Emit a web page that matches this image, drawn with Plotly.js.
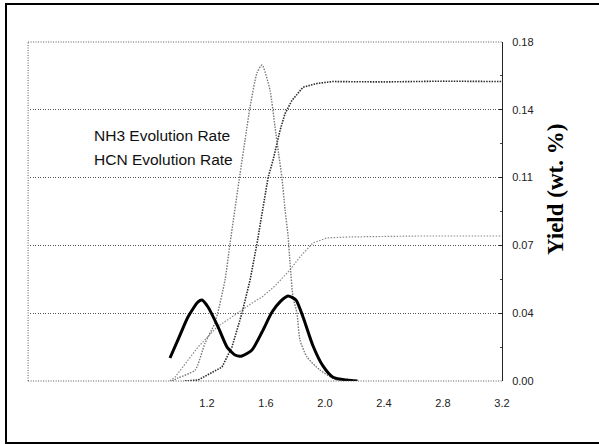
<!DOCTYPE html>
<html>
<head>
<meta charset="utf-8">
<script src="https://cdn.plot.ly/plotly-3.0.1.min.js"></script>
<style>
  html, body { margin: 0; padding: 0; background: #fff; }
  #wrap { position: relative; width: 599px; height: 444px; overflow: hidden; }
  #chart { width: 599px; height: 444px; }
  #frame { position: absolute; left: 5px; top: 3px; width: 620px; height: 437px;
           border: 2px solid #000; pointer-events: none; }
</style>
</head>
<body>
<div id="wrap">
  <div id="chart"></div>
  <div id="frame"></div>
</div>
<script>
// Thick black curve: HCN evolution rate
const hcnRateX = [0.949, 1.003, 1.071, 1.139, 1.166, 1.207, 1.275, 1.336, 1.39, 1.437, 1.505, 1.573, 1.641, 1.695, 1.749, 1.803, 1.851, 1.919, 1.986, 2.054, 2.149, 2.22];
const hcnRateY = [0.0122, 0.0218, 0.034, 0.042, 0.043, 0.0393, 0.0287, 0.018, 0.0138, 0.0133, 0.0165, 0.026, 0.0366, 0.042, 0.0451, 0.043, 0.034, 0.0186, 0.008, 0.002, 0.0005, 0];

// Grey dotted tall peak: NH3 evolution rate
const nh3RateX = [0.963, 1.003, 1.119, 1.186, 1.254, 1.322, 1.356, 1.424, 1.458, 1.492, 1.539, 1.573, 1.627, 1.661, 1.685, 1.708, 1.729, 1.749, 1.763, 1.783, 1.81, 1.83, 1.878, 1.966, 2.08, 2.17];
const nh3RateY = [0, 0.0016, 0.0058, 0.020, 0.031, 0.0536, 0.073, 0.110, 0.128, 0.1455, 0.1636, 0.1678, 0.1545, 0.135, 0.121, 0.108, 0.091, 0.0775, 0.0627, 0.0446, 0.036, 0.0218, 0.0127, 0.0058, 0.0005, 0];

// Dark dotted S-curve: cumulative NH3 yield
const nh3CumX = [1.05, 1.139, 1.302, 1.369, 1.437, 1.492, 1.539, 1.559, 1.614, 1.647, 1.695, 1.729, 1.776, 1.851, 1.946, 2.05, 2.4, 2.8, 3.2];
const nh3CumY = [0, 0.0005, 0.0074, 0.018, 0.036, 0.0536, 0.073, 0.082, 0.108, 0.117, 0.133, 0.142, 0.149, 0.156, 0.158, 0.159, 0.1588, 0.1592, 0.159];

// Light grey dotted S-curve: cumulative HCN yield
const hcnCumX = [0.949, 0.983, 1.139, 1.268, 1.369, 1.505, 1.573, 1.661, 1.763, 1.83, 1.919, 2.014, 2.17, 2.64, 3.2];
const hcnCumY = [0, 0.002, 0.018, 0.0287, 0.034, 0.0414, 0.0446, 0.0505, 0.059, 0.0659, 0.0733, 0.076, 0.0765, 0.077, 0.077];

const xTickVals = [1.2, 1.6, 2.0, 2.4, 2.8, 3.2];
const xTickText = ['1.2', '1.6', '2.0', '2.4', '2.8', '3.2'];
const yTickVals = [0, 0.036, 0.072, 0.108, 0.144, 0.18];

const labelNH3 = 'NH3 Evolution Rate';
const labelHCN = 'HCN Evolution Rate';
const yTitle = 'Yield (wt. %)';

const traces = [
  { x: nh3CumX, y: nh3CumY, mode: 'lines', line: { color: '#2a2a2a', width: 1.6, dash: '1.5px,1.2px' }, hoverinfo: 'skip' },
  { x: hcnCumX, y: hcnCumY, mode: 'lines', line: { color: '#8a8a8a', width: 1.2, dash: '1.5px,1.5px' }, hoverinfo: 'skip' },
  { x: nh3RateX, y: nh3RateY, mode: 'lines', line: { color: '#777777', width: 1.4, dash: '1.5px,1.3px', shape: 'spline', smoothing: 0.6 }, hoverinfo: 'skip' },
  { x: hcnRateX, y: hcnRateY, mode: 'lines', line: { color: '#000000', width: 3, shape: 'spline', smoothing: 0.6 }, hoverinfo: 'skip' }
];

const gridDot = { color: '#555', width: 1, dash: '1px,1.5px' };

const layout = {
  width: 599, height: 444,
  margin: { l: 30, r: 97, t: 42, b: 63 },
  paper_bgcolor: '#ffffff', plot_bgcolor: '#ffffff',
  showlegend: false,
  font: { family: 'Arial, Liberation Sans, sans-serif', color: '#222' },
  xaxis: {
    range: [0, 3.2], tickvals: xTickVals, ticktext: xTickText,
    showgrid: false, zeroline: false, showline: false, ticks: '',
    tickfont: { family: 'Arial, Liberation Sans, sans-serif', size: 11, color: '#222' },
    ticklabelstandoff: 14
  },
  yaxis: {
    side: 'right', range: [0, 0.18], tickvals: yTickVals, tickformat: '.2f',
    showgrid: true, gridcolor: '#555', gridwidth: 1, griddash: '1px,1.5px',
    zeroline: false, showline: true, linecolor: '#222', linewidth: 1,
    ticks: 'inside', ticklen: 3, tickcolor: '#222',
    minor: { tickvals: [0.018, 0.054, 0.09, 0.126, 0.162], ticks: 'inside', ticklen: 2, tickcolor: '#444', showgrid: false },
    tickfont: { family: 'Arial, Liberation Sans, sans-serif', size: 11, color: '#222' },
    ticklabelstandoff: 7
  },
  shapes: [
    { type: 'line', xref: 'paper', yref: 'paper', x0: -0.004, x1: -0.004, y0: 0, y1: 1, line: gridDot },
    { type: 'line', xref: 'paper', yref: 'paper', x0: -0.004, x1: 1, y0: 1, y1: 1, line: gridDot },
    { type: 'line', xref: 'paper', yref: 'paper', x0: -0.004, x1: 1, y0: 0, y1: 0, line: gridDot }
  ],
  annotations: [
    { x: 0.42, y: 0.1306, xref: 'x', yref: 'y', xanchor: 'left', yanchor: 'middle', showarrow: false,
      text: labelNH3, font: { family: 'Arial, Liberation Sans, sans-serif', size: 15.5, color: '#111' } },
    { x: 0.42, y: 0.1174, xref: 'x', yref: 'y', xanchor: 'left', yanchor: 'middle', showarrow: false,
      text: labelHCN, font: { family: 'Arial, Liberation Sans, sans-serif', size: 15.5, color: '#111' } },
    { x: 1.112, y: 0.566, xref: 'paper', yref: 'paper', xanchor: 'center', yanchor: 'middle', showarrow: false,
      textangle: -90, text: '<b>' + yTitle + '</b>',
      font: { family: 'Liberation Serif, Times New Roman, serif', size: 23, color: '#000' } }
  ]
};

Plotly.newPlot('chart', traces, layout, { displayModeBar: false, staticPlot: true });
</script>
</body>
</html>
